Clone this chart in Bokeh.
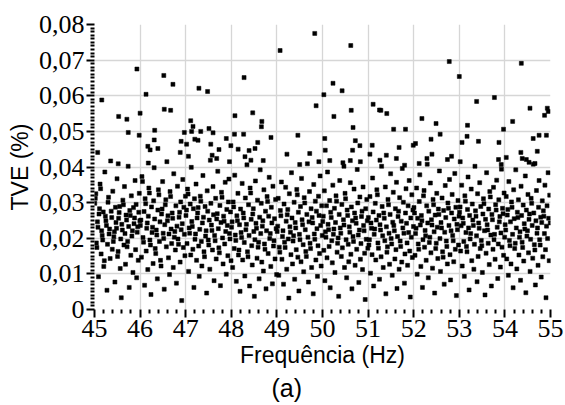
import numpy as np
from bokeh.plotting import figure
from bokeh.models import Range1d, FixedTicker, Title
from bokeh.embed import file_html
from bokeh.resources import INLINE

# TVE (%) readings, bulk of each 1 Hz band (evenly spread over the band)
tve_45 = [0.0298, 0.0312, 0.0325, 0.0187, 0.0174, 0.0246, 0.0231, 0.0092, 0.0268, 0.0283,
          0.0352, 0.0339, 0.0156, 0.0221, 0.0208, 0.0195, 0.0274, 0.0121, 0.0137, 0.0386,
          0.0262, 0.0249, 0.0236, 0.0054, 0.0183, 0.0301, 0.0315, 0.0212, 0.0226, 0.0143,
          0.0417, 0.0276, 0.0258, 0.0169, 0.0332, 0.0191, 0.0204, 0.0218, 0.0077, 0.0287,
          0.0244, 0.0228, 0.0367, 0.0149, 0.0163, 0.0256, 0.0272, 0.0289, 0.0115, 0.0198,
          0.0033, 0.0239, 0.0223, 0.0307, 0.0294, 0.0181, 0.0345, 0.0213, 0.0127, 0.0265,
          0.0251, 0.0176, 0.0191, 0.0402, 0.0233, 0.0062, 0.0278, 0.0264, 0.0152, 0.0319,
          0.0206, 0.0221, 0.0104, 0.0286, 0.0241, 0.0257, 0.0362, 0.0168, 0.0295, 0.0089,
          0.0217, 0.0232, 0.0138, 0.0273, 0.0326, 0.0249]
tve_46 = [0.0236, 0.0251, 0.0147, 0.0373, 0.0359, 0.0202, 0.0189, 0.0275, 0.0068, 0.0311,
          0.0297, 0.0164, 0.0228, 0.0243, 0.0112, 0.0262, 0.0341, 0.0327, 0.0195, 0.0181,
          0.0042, 0.0288, 0.0216, 0.0231, 0.0129, 0.0305, 0.0398, 0.0254, 0.0171, 0.0157,
          0.0223, 0.0209, 0.0086, 0.0279, 0.0336, 0.0322, 0.0191, 0.0246, 0.0138, 0.0122,
          0.0268, 0.0282, 0.0359, 0.0214, 0.0199, 0.0057, 0.0238, 0.0294, 0.0308, 0.0176,
          0.0415, 0.0249, 0.0263, 0.0145, 0.0212, 0.0098, 0.0331, 0.0317, 0.0226, 0.0185,
          0.0271, 0.0256, 0.0118, 0.0381, 0.0203, 0.0219, 0.0167, 0.0291, 0.0074, 0.0234,
          0.0346, 0.0198, 0.0183, 0.0259, 0.0273, 0.0133, 0.0302, 0.0224, 0.0025, 0.0241,
          0.0365, 0.0174, 0.0287, 0.0211, 0.0151, 0.0318]
tve_47 = [0.0264, 0.0279, 0.0185, 0.0338, 0.0324, 0.0107, 0.0229, 0.0214, 0.0296, 0.0153,
          0.0399, 0.0247, 0.0233, 0.0169, 0.0283, 0.0062, 0.0311, 0.0197, 0.0212, 0.0352,
          0.0138, 0.0257, 0.0271, 0.0286, 0.0178, 0.0093, 0.0225, 0.0318, 0.0304, 0.0191,
          0.0122, 0.0243, 0.0376, 0.0259, 0.0162, 0.0148, 0.0289, 0.0206, 0.0221, 0.0046,
          0.0333, 0.0276, 0.0195, 0.0181, 0.0251, 0.0113, 0.0419, 0.0298, 0.0237, 0.0222,
          0.0167, 0.0345, 0.0266, 0.0081, 0.0208, 0.0193, 0.0312, 0.0142, 0.0254, 0.0269,
          0.0388, 0.0227, 0.0173, 0.0159, 0.0292, 0.0067, 0.0244, 0.0329, 0.0315, 0.0201,
          0.0128, 0.0262, 0.0248, 0.0184, 0.0357, 0.0219, 0.0099, 0.0281, 0.0236, 0.0151,
          0.0302, 0.0366, 0.0213, 0.0198, 0.0274, 0.0137]
tve_48 = [0.0231, 0.0246, 0.0118, 0.0302, 0.0288, 0.0171, 0.0377, 0.0209, 0.0194, 0.0079,
          0.0263, 0.0249, 0.0326, 0.0153, 0.0167, 0.0238, 0.0051, 0.0282, 0.0216, 0.0202,
          0.0354, 0.0139, 0.0271, 0.0257, 0.0188, 0.0094, 0.0313, 0.0224, 0.0239, 0.0406,
          0.0162, 0.0148, 0.0294, 0.0208, 0.0066, 0.0341, 0.0327, 0.0253, 0.0179, 0.0125,
          0.0268, 0.0283, 0.0219, 0.0037, 0.0196, 0.0361, 0.0242, 0.0228, 0.0144, 0.0307,
          0.0175, 0.0189, 0.0086, 0.0259, 0.0392, 0.0213, 0.0298, 0.0133, 0.0234, 0.0249,
          0.0108, 0.0336, 0.0184, 0.0169, 0.0276, 0.0058, 0.0221, 0.0317, 0.0303, 0.0157,
          0.0262, 0.0371, 0.0199, 0.0213, 0.0121, 0.0287, 0.0243, 0.0072, 0.0346, 0.0178,
          0.0193, 0.0255, 0.0142, 0.0309, 0.0227, 0.0098]
tve_49 = [0.0219, 0.0234, 0.0312, 0.0096, 0.0175, 0.0161, 0.0278, 0.0263, 0.0358, 0.0141,
          0.0205, 0.0221, 0.0071, 0.0296, 0.0189, 0.0174, 0.0343, 0.0248, 0.0113, 0.0266,
          0.0281, 0.0198, 0.0032, 0.0325, 0.0232, 0.0217, 0.0154, 0.0384, 0.0257, 0.0128,
          0.0192, 0.0207, 0.0301, 0.0085, 0.0244, 0.0229, 0.0168, 0.0337, 0.0322, 0.0147,
          0.0273, 0.0052, 0.0211, 0.0196, 0.0289, 0.0134, 0.0368, 0.0252, 0.0238, 0.0182,
          0.0106, 0.0314, 0.0299, 0.0224, 0.0163, 0.0149, 0.0267, 0.0409, 0.0203, 0.0077,
          0.0246, 0.0331, 0.0186, 0.0171, 0.0283, 0.0118, 0.0258, 0.0243, 0.0044, 0.0351,
          0.0212, 0.0197, 0.0304, 0.0139, 0.0276, 0.0227, 0.0093, 0.0179, 0.0318, 0.0264,
          0.0157, 0.0375, 0.0236, 0.0122, 0.0291, 0.0208]
tve_50 = [0.0247, 0.0262, 0.0166, 0.0333, 0.0081, 0.0218, 0.0203, 0.0291, 0.0145, 0.0386,
          0.0239, 0.0224, 0.0177, 0.0306, 0.0061, 0.0273, 0.0258, 0.0193, 0.0131, 0.0349,
          0.0211, 0.0226, 0.0284, 0.0104, 0.0244, 0.0319, 0.0304, 0.0161, 0.0186, 0.0201,
          0.0037, 0.0267, 0.0362, 0.0229, 0.0214, 0.0149, 0.0295, 0.0173, 0.0412, 0.0252,
          0.0237, 0.0118, 0.0326, 0.0311, 0.0196, 0.0089, 0.0279, 0.0264, 0.0183, 0.0134,
          0.0232, 0.0217, 0.0356, 0.0155, 0.0288, 0.0058, 0.0249, 0.0205, 0.0191, 0.0338,
          0.0271, 0.0124, 0.0257, 0.0242, 0.0169, 0.0393, 0.0299, 0.0209, 0.0076, 0.0223,
          0.0316, 0.0141, 0.0185, 0.0261, 0.0276, 0.0112, 0.0344, 0.0236, 0.0221, 0.0158,
          0.0028, 0.0283, 0.0197, 0.0309, 0.0249, 0.0172]
tve_51 = [0.0258, 0.0181, 0.0196, 0.0317, 0.0102, 0.0243, 0.0228, 0.0154, 0.0369, 0.0274,
          0.0066, 0.0211, 0.0226, 0.0298, 0.0139, 0.0251, 0.0336, 0.0322, 0.0187, 0.0172,
          0.0264, 0.0085, 0.0238, 0.0223, 0.0148, 0.0402, 0.0289, 0.0207, 0.0118, 0.0271,
          0.0256, 0.0193, 0.0344, 0.0044, 0.0232, 0.0161, 0.0176, 0.0309, 0.0294, 0.0214,
          0.0127, 0.0267, 0.0381, 0.0199, 0.0184, 0.0096, 0.0245, 0.0329, 0.0236, 0.0221,
          0.0142, 0.0283, 0.0168, 0.0357, 0.0059, 0.0205, 0.0261, 0.0276, 0.0113, 0.0314,
          0.0192, 0.0177, 0.0248, 0.0133, 0.0396, 0.0229, 0.0301, 0.0214, 0.0074, 0.0156,
          0.0271, 0.0339, 0.0242, 0.0187, 0.0124, 0.0291, 0.0216, 0.0362, 0.0164, 0.0035,
          0.0257, 0.0203, 0.0322, 0.0146, 0.0279, 0.0233]
tve_52 = [0.0286, 0.0271, 0.0152, 0.0213, 0.0228, 0.0341, 0.0099, 0.0256, 0.0184, 0.0169,
          0.0303, 0.0378, 0.0237, 0.0121, 0.0264, 0.0249, 0.0062, 0.0196, 0.0319, 0.0334,
          0.0175, 0.0222, 0.0207, 0.0138, 0.0291, 0.0408, 0.0243, 0.0089, 0.0276, 0.0188,
          0.0203, 0.0355, 0.0159, 0.0252, 0.0237, 0.0116, 0.0309, 0.0294, 0.0218, 0.0046,
          0.0265, 0.0171, 0.0186, 0.0326, 0.0231, 0.0143, 0.0282, 0.0267, 0.0389, 0.0199,
          0.0107, 0.0244, 0.0229, 0.0313, 0.0162, 0.0147, 0.0278, 0.0071, 0.0217, 0.0348,
          0.0258, 0.0192, 0.0177, 0.0128, 0.0299, 0.0284, 0.0236, 0.0365, 0.0154, 0.0083,
          0.0221, 0.0271, 0.0323, 0.0208, 0.0193, 0.0134, 0.0254, 0.0382, 0.0169, 0.0287,
          0.0039, 0.0239, 0.0224, 0.0306, 0.0181, 0.0262]
tve_53 = [0.0273, 0.0288, 0.0164, 0.0235, 0.0349, 0.0122, 0.0257, 0.0242, 0.0191, 0.0093,
          0.0319, 0.0304, 0.0216, 0.0177, 0.0162, 0.0281, 0.0372, 0.0229, 0.0055, 0.0264,
          0.0198, 0.0213, 0.0338, 0.0137, 0.0296, 0.0251, 0.0236, 0.0113, 0.0183, 0.0402,
          0.0277, 0.0262, 0.0207, 0.0078, 0.0325, 0.0149, 0.0243, 0.0228, 0.0356, 0.0171,
          0.0289, 0.0194, 0.0179, 0.0104, 0.0268, 0.0311, 0.0297, 0.0221, 0.0041, 0.0253,
          0.0158, 0.0384, 0.0238, 0.0223, 0.0186, 0.0282, 0.0126, 0.0331, 0.0316, 0.0209,
          0.0066, 0.0267, 0.0252, 0.0169, 0.0343, 0.0196, 0.0211, 0.0141, 0.0294, 0.0279,
          0.0363, 0.0231, 0.0087, 0.0184, 0.0308, 0.0246, 0.0261, 0.0119, 0.0215, 0.0394,
          0.0175, 0.0284, 0.0269, 0.0152, 0.0327, 0.0203]
tve_54 = [0.0238, 0.0223, 0.0317, 0.0142, 0.0265, 0.0281, 0.0096, 0.0359, 0.0194, 0.0179,
          0.0246, 0.0128, 0.0302, 0.0287, 0.0211, 0.0061, 0.0336, 0.0255, 0.0171, 0.0186,
          0.0392, 0.0229, 0.0114, 0.0273, 0.0258, 0.0308, 0.0153, 0.0203, 0.0218, 0.0082,
          0.0346, 0.0264, 0.0189, 0.0174, 0.0293, 0.0136, 0.0241, 0.0226, 0.0375, 0.0047,
          0.0279, 0.0206, 0.0221, 0.0323, 0.0159, 0.0253, 0.0268, 0.0107, 0.0197, 0.0312,
          0.0298, 0.0236, 0.0144, 0.0408, 0.0271, 0.0182, 0.0167, 0.0069, 0.0249, 0.0334,
          0.0214, 0.0229, 0.0124, 0.0287, 0.0362, 0.0196, 0.0181, 0.0259, 0.0091, 0.0244,
          0.0305, 0.0148, 0.0277, 0.0262, 0.0213, 0.0349, 0.0168, 0.0033, 0.0234, 0.0291,
          0.0199, 0.0384, 0.0256, 0.0137, 0.0321, 0.0243]

band_start = [45, 46, 47, 48, 49, 50, 51, 52, 53, 54]
band_tve = [tve_45, tve_46, tve_47, tve_48, tve_49, tve_50, tve_51, tve_52, tve_53, tve_54]

peak_freq = [45.07, 45.16, 45.52, 45.53, 45.71, 45.74, 45.93, 45.98,
             46.00, 46.13, 46.17, 46.18, 46.22, 46.31, 46.32, 46.39, 46.52, 46.53, 46.67, 46.72, 46.88, 46.90, 46.97,
             47.02, 47.06, 47.11, 47.13, 47.16, 47.20, 47.27, 47.29, 47.33, 47.48, 47.51, 47.55, 47.58, 47.60, 47.68,
             47.73, 47.89, 47.96, 47.99,
             48.07, 48.08, 48.15, 48.27, 48.28, 48.30, 48.39, 48.43, 48.47, 48.52, 48.58, 48.66, 48.67, 48.70, 48.87,
             49.07, 49.22, 49.46, 49.50, 49.72, 49.83, 49.86, 49.92,
             50.03, 50.05, 50.06, 50.16, 50.23, 50.25, 50.43, 50.47, 50.61, 50.62, 50.63, 50.66, 50.67, 50.72, 50.82,
             50.83,
             51.04, 51.09, 51.11, 51.25, 51.26, 51.28, 51.40, 51.41, 51.56, 51.62, 51.68, 51.80, 51.82, 51.99,
             52.04, 52.12, 52.18, 52.29, 52.38, 52.40, 52.49, 52.58, 52.74, 52.78, 52.83,
             53.00, 53.02, 53.06, 53.17, 53.18, 53.38, 53.42, 53.77, 53.86, 53.87, 53.92, 53.97,
             54.03, 54.17, 54.35, 54.36, 54.38, 54.47, 54.53, 54.55, 54.62, 54.66, 54.71, 54.75, 54.87, 54.91, 54.93,
             54.95]
peak_tve = [0.0441, 0.0588, 0.0409, 0.0542, 0.0534, 0.0497, 0.0675, 0.0489,
            0.0551, 0.0604, 0.0458, 0.0411, 0.0448, 0.0476, 0.0503, 0.0452, 0.0657, 0.0562, 0.0559, 0.0632, 0.0441,
            0.0472, 0.0497,
            0.0464, 0.0430, 0.0530, 0.0500, 0.0514, 0.0478, 0.0475, 0.0621, 0.0500, 0.0612, 0.0508, 0.0464, 0.0433,
            0.0496, 0.0424, 0.0449, 0.0480, 0.0415, 0.0460,
            0.0492, 0.0544, 0.0450, 0.0492, 0.0651, 0.0429, 0.0446, 0.0419, 0.0552, 0.0452, 0.0469, 0.0513, 0.0528,
            0.0418, 0.0483,
            0.0727, 0.0436, 0.0489, 0.0407, 0.0438, 0.0775, 0.0572, 0.0415,
            0.0603, 0.0480, 0.0447, 0.0418, 0.0635, 0.0542, 0.0614, 0.0402, 0.0418, 0.0741, 0.0559, 0.0447, 0.0511,
            0.0474, 0.0460, 0.0415,
            0.0436, 0.0461, 0.0576, 0.0560, 0.0419, 0.0559, 0.0433, 0.0550, 0.0506, 0.0424, 0.0455, 0.0405, 0.0506,
            0.0461,
            0.0466, 0.0410, 0.0536, 0.0424, 0.0478, 0.0436, 0.0522, 0.0492, 0.0421, 0.0696, 0.0430,
            0.0654, 0.0415, 0.0469, 0.0486, 0.0517, 0.0584, 0.0472, 0.0595, 0.0421, 0.0469, 0.0407, 0.0506,
            0.0427, 0.0528, 0.0441, 0.0691, 0.0424, 0.0421, 0.0413, 0.0565, 0.0480, 0.0410, 0.0444, 0.0489, 0.0545,
            0.0489, 0.0565, 0.0556]

x_ticks = [45, 46, 47, 48, 49, 50, 51, 52, 53, 54, 55]
y_ticks = [0, 0.01, 0.02, 0.03, 0.04, 0.05, 0.06, 0.07, 0.08]
y_tick_labels = ["0", "0,01", "0,02", "0,03", "0,04", "0,05", "0,06", "0,07", "0,08"]

xs, ys = [], []
for start, vals in zip(band_start, band_tve):
    n = len(vals)
    xs.extend((start + (np.arange(n) + 0.5) / n).tolist())
    ys.extend(vals)
xs.extend(peak_freq)
ys.extend(peak_tve)

TICK_FONT = "Liberation Sans Narrow"
LABEL_FONT = "Liberation Sans"

p = figure(width=565, height=405, output_backend="svg", toolbar_location=None,
           x_range=Range1d(45, 55), y_range=Range1d(0, 0.08),
           min_border_left=94, min_border_right=15, min_border_top=24, min_border_bottom=96)
p.outline_line_color = None
p.background_fill_color = "white"
p.border_fill_color = "white"

p.scatter(xs, ys, marker="square", size=4, fill_color="black", line_color="black", line_width=0.5)

x_minor = [45 + i * 0.2 for i in range(51) if i % 5 != 0]
y_minor = [i / 1000 for i in range(81) if i % 10 != 0]

p.xaxis.ticker = FixedTicker(ticks=x_ticks, minor_ticks=x_minor)
p.yaxis.ticker = FixedTicker(ticks=y_ticks, minor_ticks=y_minor)
p.yaxis.major_label_overrides = dict(zip(y_ticks, y_tick_labels))

p.xgrid.ticker = FixedTicker(ticks=x_ticks[1:-1])
p.ygrid.ticker = FixedTicker(ticks=y_ticks[1:-1])
for g in (p.xgrid, p.ygrid):
    g.grid_line_color = "#d6d6d6"
    g.grid_line_width = 1.3

for ax in (p.xaxis, p.yaxis):
    ax.axis_line_color = None
    ax.major_tick_line_color = "black"
    ax.minor_tick_line_color = "black"
    ax.major_tick_line_width = 2
    ax.minor_tick_line_width = 2
    ax.major_tick_in = 0
    ax.minor_tick_in = 0
    ax.major_tick_out = 8
    ax.minor_tick_out = 4
    ax.major_label_text_font = TICK_FONT
    ax.major_label_text_font_size = "26px"
    ax.major_label_text_color = "black"
    ax.axis_label_text_font = LABEL_FONT
    ax.axis_label_text_font_size = "23px"
    ax.axis_label_text_font_style = "normal"
    ax.axis_label_text_color = "black"
    ax.major_label_standoff = 2

p.xaxis.axis_label = "Frequência (Hz)"
p.yaxis.axis_label = "TVE (%)"
p.xaxis.axis_label_standoff = 2
p.yaxis.axis_label_standoff = 3

cap = Title(text="(a)", align="left", offset=177, standoff=2, text_font=LABEL_FONT,
            text_font_size="25px", text_font_style="normal", text_color="black")
p.add_layout(cap, "below")

open("out.html", "w").write(file_html(p, INLINE))
